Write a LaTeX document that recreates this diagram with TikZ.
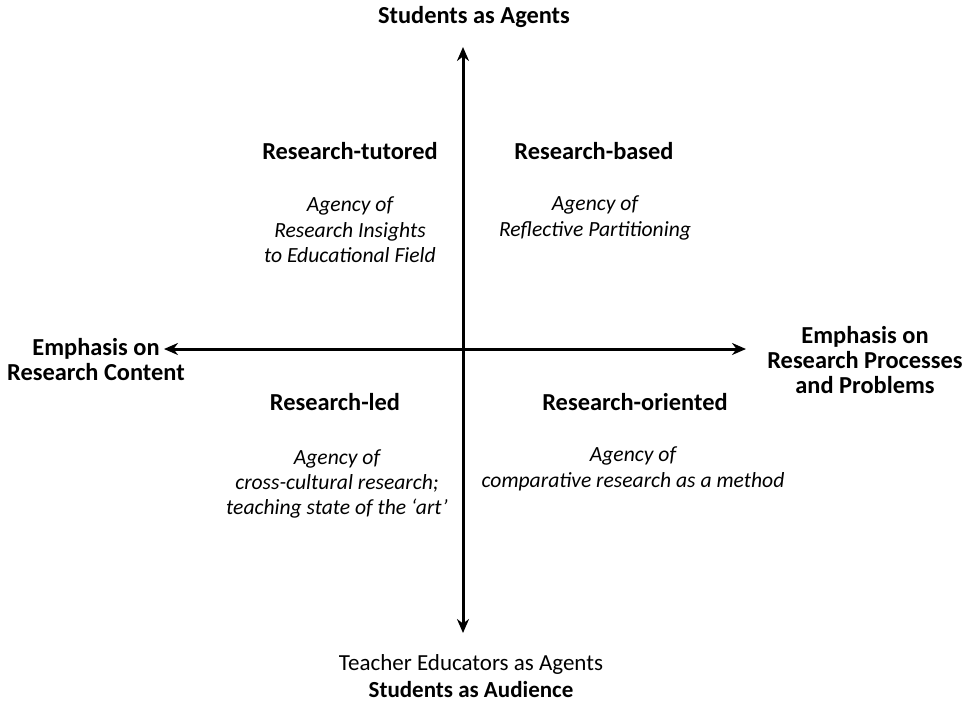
\documentclass[tikz,border=0pt]{standalone}
\usepackage{fontspec}
\setmainfont{Carlito}
\usepackage{tikz}
\usetikzlibrary{arrows.meta,positioning}

\begin{document}
\begin{tikzpicture}[
    x=0.5pt, y=-0.5pt,
    every node/.style={font=\fontsize{11.5}{13.5}\selectfont, align=center, inner sep=0pt},
    head/.style={font=\fontsize{12.2}{12.5}\selectfont\bfseries},
    desc/.style={font=\fontsize{10.8}{12.7}\selectfont\itshape},
    axis/.style={line width=1.5pt, {Stealth[length=7pt,width=6pt]}-{Stealth[length=7pt,width=6pt]}}
]
\useasboundingbox (0,0) rectangle (966,703);

% axes
\coordinate (vtop) at (463,47);
\coordinate (vbot) at (463,633);
\coordinate (hleft) at (164,349);
\coordinate (hright) at (746,349);
\draw[axis] (vtop) -- (vbot);
\draw[axis] (hleft) -- (hright);

% axis labels
\node[head] (top-lbl) at (474,17) {Students as Agents};
\node[head] (left-lbl) at (96,360) {Emphasis on\\Research Content};
\node[head] (right-lbl) at (865,360) {Emphasis on\\Research Processes\\and Problems};
\node (bot-lbl) at (471,676) {Teacher Educators as Agents\\\textbf{Students as Audience}};

% quadrants
\node[head] (tutored) at (350,151) {Research-tutored};
\node[desc] (tutored-d) at (350,230) {Agency of\\Research Insights\\to Educational Field};
\node[head] (based) at (594,151) {Research-based};
\node[desc] (based-d) at (595,218) {Agency of\\Reflective Partitioning};
\node[head] (led) at (335,402) {Research-led};
\node[desc] (led-d) at (337,484) {Agency of\\cross-cultural research;\\teaching state of the `art'};
\node[head] (oriented) at (635,402) {Research-oriented};
\node[desc] (oriented-d) at (633,469) {Agency of\\comparative research as a method};
\end{tikzpicture}
\end{document}
